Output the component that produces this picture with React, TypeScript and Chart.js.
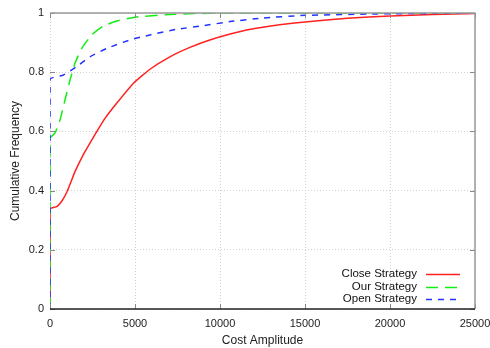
import React, { useEffect, useRef } from "react";
import { Chart, registerables } from "chart.js";

Chart.register(...registerables);

const closeX = [0, 0, 400, 700, 1000, 1470, 1900, 2350, 2800, 3235, 3920, 4900, 5880, 7050, 8230, 9400, 10600, 11800, 13500, 15000, 17500, 20000, 22500, 25000];
const closeY = [0, 0.338, 0.346, 0.365, 0.396, 0.464, 0.515, 0.56, 0.604, 0.644, 0.695, 0.762, 0.81, 0.852, 0.884, 0.909, 0.929, 0.945, 0.96, 0.97, 0.982, 0.99, 0.995, 0.998];

const ourX = [0, 0, 290, 590, 880, 1180, 1470, 1860, 2450, 3140, 3920, 5000, 7000, 10000, 25000];
const ourY = [0, 0.577, 0.594, 0.639, 0.706, 0.774, 0.83, 0.88, 0.926, 0.956, 0.973, 0.986, 0.995, 1.0, 1.0];

const openX = [0, 0, 780, 1570, 2350, 3330, 4700, 5880, 7450, 9020, 10580, 12500, 15000, 19200, 25000];
const openY = [0, 0.776, 0.79, 0.819, 0.852, 0.88, 0.909, 0.926, 0.945, 0.957, 0.971, 0.983, 0.992, 0.997, 1.0];

const xTicks = [0, 5000, 10000, 15000, 20000, 25000];
const yTicks = [0, 0.2, 0.4, 0.6, 0.8, 1];

const seriesNames = ["Close Strategy", "Our Strategy", "Open Strategy"];

const FONT = "'Liberation Sans', Arial, Helvetica, sans-serif";

function pts(xs: number[], ys: number[]) {
  return xs.map((x, i) => ({ x, y: ys[i] }));
}

const framePlugin = {
  id: "gnuFrame",
  afterDraw(chart: any) {
    const { ctx, chartArea: a, scales } = chart;
    ctx.save();
    ctx.lineWidth = 1;
    ctx.strokeStyle = "#888";
    ctx.beginPath();
    for (const v of xTicks) {
      const px = Math.round(scales.x.getPixelForValue(v)) + 0.5;
      ctx.moveTo(px, a.bottom);
      ctx.lineTo(px, a.bottom - 5);
      ctx.moveTo(px, a.top);
      ctx.lineTo(px, a.top + 5);
    }
    for (const v of yTicks) {
      const py = Math.round(scales.y.getPixelForValue(v)) + 0.5;
      ctx.moveTo(a.left, py);
      ctx.lineTo(a.left + 5, py);
      ctx.moveTo(a.right, py);
      ctx.lineTo(a.right - 5, py);
    }
    ctx.stroke();
    ctx.strokeStyle = "#999";
    ctx.lineWidth = 1.5;
    ctx.beginPath();
    ctx.moveTo(a.left, a.top);
    ctx.lineTo(a.right, a.top);
    ctx.lineTo(a.right, a.bottom);
    ctx.stroke();
    ctx.strokeStyle = "#222";
    ctx.beginPath();
    ctx.moveTo(a.left, a.bottom);
    ctx.lineTo(a.right, a.bottom);
    ctx.stroke();

    ctx.font = `11.5px ${FONT}`;
    ctx.fillStyle = "#111";
    ctx.textAlign = "right";
    ctx.textBaseline = "middle";
    const rows = [274, 287, 299];
    chart.data.datasets.forEach((ds: any, i: number) => {
      const y = rows[i];
      ctx.fillText(ds.label, 417, y);
      ctx.strokeStyle = ds.borderColor;
      ctx.lineWidth = 1.5;
      ctx.setLineDash(ds.borderDash || []);
      ctx.beginPath();
      ctx.moveTo(426, y + 0.5);
      ctx.lineTo(460, y + 0.5);
      ctx.stroke();
    });
    ctx.setLineDash([]);
    ctx.restore();
  },
};

export default function App() {
  const ref = useRef<HTMLCanvasElement | null>(null);
  useEffect(() => {
    if (!ref.current) return;
    const chart = new Chart(ref.current, {
      type: "line",
      data: {
        datasets: [
          {
            label: seriesNames[0],
            data: pts(closeX, closeY),
            borderColor: "#ff2020",
            borderWidth: 1.5,
            pointRadius: 0,
            tension: 0.15,
            order: 2,
          },
          {
            label: seriesNames[1],
            data: pts(ourX, ourY),
            borderColor: "#11ee11",
            borderWidth: 1.5,
            borderDash: [12, 7],
            pointRadius: 0,
            tension: 0.15,
            order: 1,
          },
          {
            label: seriesNames[2],
            data: pts(openX, openY),
            borderColor: "#2233ff",
            borderWidth: 1.5,
            borderDash: [6, 6],
            pointRadius: 0,
            tension: 0.15,
            order: 0,
          },
        ],
      },
      options: {
        animation: false,
        responsive: false,
        parsing: false as any,
        layout: { padding: { top: 13, right: 15, left: 0, bottom: 0 } },
        plugins: { legend: { display: false }, tooltip: { enabled: false } },
        scales: {
          x: {
            type: "linear",
            min: 0,
            max: 25000,
            afterBuildTicks: (s: any) => {
              s.ticks = xTicks.map((v) => ({ value: v }));
            },
            afterFit: (s: any) => {
              s.height = 39;
              s.paddingLeft = 0;
              s.paddingRight = 0;
            },
            ticks: {
              callback: (v: any) => String(v),
              color: "#222",
              font: { family: FONT, size: 11 },
              padding: 8,
              maxRotation: 0,
              autoSkip: false,
            },
            grid: { color: "#d0d0d0", drawTicks: false },
            border: { display: false, dash: [1, 2] } as any,
            title: {
              display: true,
              text: "Cost Amplitude",
              color: "#222",
              font: { family: FONT, size: 12 },
              padding: { top: 6, bottom: 0 },
            },
          },
          y: {
            type: "linear",
            min: 0,
            max: 1,
            afterBuildTicks: (s: any) => {
              s.ticks = yTicks.map((v) => ({ value: v }));
            },
            afterFit: (s: any) => {
              s.width = 50;
              s.paddingTop = 0;
              s.paddingBottom = 0;
            },
            ticks: {
              callback: (v: any) => String(v),
              color: "#222",
              font: { family: FONT, size: 11 },
              padding: 6,
            },
            grid: { color: "#d0d0d0", drawTicks: false },
            border: { display: false, dash: [1, 2] } as any,
            title: {
              display: true,
              text: "Cumulative Frequency",
              color: "#222",
              font: { family: FONT, size: 12 },
              padding: { top: 8, bottom: 0 },
            },
          },
        },
      },
      plugins: [framePlugin],
    });
    return () => chart.destroy();
  }, []);
  return (
    <div style={{ position: "absolute", left: 0, top: 0, width: 490, height: 348, overflow: "hidden", background: "#fff" }}>
      <canvas ref={ref} width={490} height={348} style={{ display: "block", width: 490, height: 348 }} />
    </div>
  );
}
